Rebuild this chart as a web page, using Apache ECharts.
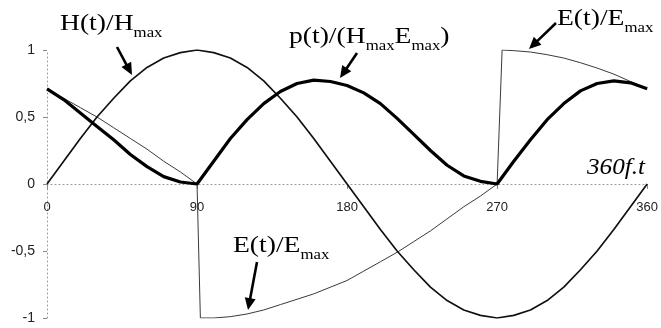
<!DOCTYPE html>
<html><head><meta charset="utf-8">
<script src="https://cdn.jsdelivr.net/npm/echarts@6/dist/echarts.min.js"></script>
<style>html,body{margin:0;padding:0;background:#fff}#c{width:661px;height:328px}</style>
</head><body><div id="c"></div>
<script>
// ---- data ----
const xTickValues = [0, 90, 180, 270, 360];
const yTickValues = [-1, -0.5, 0, 0.5, 1];
const yTickLabels = ['-1', '-0,5', '0', '0,5', '1'];
const angles = [0,10,20,30,40,50,60,70,80,90,100,110,120,130,140,150,160,170,180,
                190,200,210,220,230,240,250,260,270,280,290,300,310,320,330,340,350,360];
const hValues = [0,0.17,0.34,0.5,0.64,0.77,0.87,0.94,0.98,1.0,0.98,0.94,0.87,0.77,0.64,0.5,0.34,0.17,0,
                 -0.17,-0.34,-0.5,-0.64,-0.77,-0.87,-0.94,-0.98,-1.0,-0.98,-0.94,-0.87,-0.77,-0.64,-0.5,-0.34,-0.17,0];
const pValues = [0.71,0.63,0.53,0.43,0.33,0.22,0.13,0.055,0.015,0,0.17,0.34,0.48,0.6,0.69,0.75,0.775,0.765,0.735,
                 0.68,0.6,0.49,0.37,0.25,0.14,0.06,0.02,0,0.17,0.33,0.48,0.6,0.695,0.75,0.77,0.755,0.71];
const eAngles = [0,10,20,30,40,50,60,70,80,90,92,100,110,120,130,140,150,160,170,180,
                 190,200,210,220,230,240,250,260,270,273,280,290,300,310,320,330,340,350,360];
const eValues = [0.71,0.64,0.57,0.5,0.42,0.34,0.26,0.17,0.09,0,-1,-1,-0.99,-0.97,-0.94,-0.9,-0.86,-0.82,-0.77,-0.72,
                 -0.65,-0.58,-0.51,-0.43,-0.35,-0.26,-0.17,-0.09,0,1,0.995,0.985,0.965,0.94,0.905,0.865,0.82,0.765,0.71];

const pair = (xs, ys) => xs.map((x, i) => [x, ys[i]]);

// ---- annotation helpers ----
const MAIN = 23, SUB = 14, SX = 1.2;
const ctx = document.createElement('canvas').getContext('2d');
function measure(t, font) { ctx.font = font; return ctx.measureText(t).width; }
function label(left, base, pieces, scale) {
  const els = []; let x = left;
  pieces.forEach(([t, kind]) => {
    const size = kind === 'm' ? MAIN : SUB;
    const font = size + 'px "Liberation Serif"';
    const b = kind === 'm' ? base : base + 7;
    els.push({ type: 'text', x: x, y: b - 0.8 * size, scaleX: scale, scaleY: 1,
      style: { text: t, font: font, fill: '#000', align: 'left', verticalAlign: 'top' } });
    x += measure(t, font) * scale;
  });
  return els;
}
function arrow(x1, y1, x2, y2) {
  const dx = x2 - x1, dy = y2 - y1, L = Math.hypot(dx, dy);
  const ux = dx / L, uy = dy / L, hl = 12, hw = 5.5;
  const bx = x2 - ux * hl, by = y2 - uy * hl;
  return [
    { type: 'line', shape: { x1: x1, y1: y1, x2: bx + ux, y2: by + uy }, style: { stroke: '#000', lineWidth: 2.6 } },
    { type: 'polygon', shape: { points: [[x2, y2], [bx - uy * hw, by + ux * hw], [bx + uy * hw, by - ux * hw]] }, style: { fill: '#000' } }
  ];
}

const graphics = [].concat(
  label(60, 31, [['H(t)/H', 'm'], ['max', 's']], SX),
  label(289, 44, [['p(t)/(H', 'm'], ['max', 's'], ['E', 'm'], ['max', 's'], [')', 'm']], SX),
  label(557, 26, [['E(t)/E', 'm'], ['max', 's']], SX),
  label(233, 253, [['E(t)/E', 'm'], ['max', 's']], SX),
  [{ type: 'text', x: 587, y: 175 - 0.8 * 24, scaleX: 1.05,
     style: { text: '360f.t', font: 'italic 24px "Liberation Serif"', fill: '#000', align: 'left', verticalAlign: 'top' } }],
  arrow(117, 47, 132, 75),
  arrow(357, 53, 340, 78),
  arrow(556, 23, 529, 49),
  arrow(257, 262, 248, 310)
);

const GRID_TOP = 50, GRID_BOTTOM = 10, H = 328;
const chart = echarts.init(document.getElementById('c'), null, { renderer: 'canvas' });
chart.setOption({
  animation: false,
  backgroundColor: '#fff',
  grid: { left: 47, right: 13, top: GRID_TOP, bottom: GRID_BOTTOM, containLabel: false },
  xAxis: {
    type: 'value', min: xTickValues[0], max: xTickValues[xTickValues.length - 1], interval: 90,
    position: 'bottom',
    offset: -(H - GRID_TOP - GRID_BOTTOM) / 2,
    axisLine: { onZero: false, lineStyle: { color: '#999', type: [1, 3], width: 1 } },
    axisTick: { show: true, length: 5, lineStyle: { color: '#888' } },
    splitLine: { show: false },
    axisLabel: { margin: 17, fontSize: 13, color: '#222', fontFamily: 'Liberation Sans',
      formatter: v => xTickValues.includes(v) ? String(v) : '' }
  },
  yAxis: {
    type: 'value', min: -1, max: 1, interval: 0.5,
    axisLine: { show: true, onZero: false, lineStyle: { color: '#999', type: [1, 3], width: 1 } },
    axisTick: { show: true, length: 4, lineStyle: { color: '#888' } },
    splitLine: { show: false },
    axisLabel: { margin: 12, fontSize: 14, color: '#222', fontFamily: 'Liberation Sans',
      formatter: v => { const i = yTickValues.indexOf(v); return i >= 0 ? yTickLabels[i] : ''; } }
  },
  series: [
    { name: 'E(t)/Emax', type: 'line', data: pair(eAngles, eValues), showSymbol: false,
      lineStyle: { color: '#3a3a3a', width: 1 }, z: 2 },
    { name: 'H(t)/Hmax', type: 'line', data: pair(angles, hValues), showSymbol: false,
      lineStyle: { color: '#111', width: 1.7 }, z: 3 },
    { name: 'p(t)/(HmaxEmax)', type: 'line', data: pair(angles, pValues), showSymbol: false,
      lineStyle: { color: '#000', width: 3.2 }, z: 4 }
  ],
  graphic: { elements: graphics }
});
</script></body></html>
